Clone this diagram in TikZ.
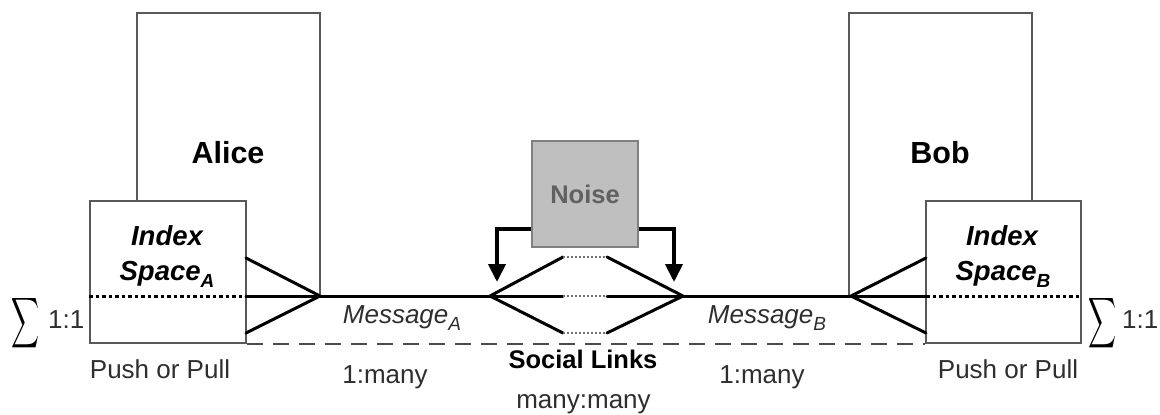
\documentclass[tikz,border=0pt]{standalone}
\usepackage{fontspec}
\setmainfont{Liberation Sans}
\usepackage{graphicx}
\usetikzlibrary{arrows.meta}
\newcommand{\fsz}[1]{\fontsize{#1}{#1}\selectfont}
\newcommand{\lowsub}[1]{\raisebox{-7pt}{\fsz{19}#1}}
\begin{document}
\begin{tikzpicture}[x=1pt,y=-1pt,
  txt/.style={inner sep=0pt, text=black!82, font=\fsz{26}},
  boldtxt/.style={inner sep=0pt, text=black, font=\bfseries\fsz{30.5}},
  idxtxt/.style={inner sep=0pt, text=black, font=\bfseries\itshape\fsz{27.5}},
  person/.style={draw=black!65, line width=1.8pt, fill=white, inner sep=0pt},
  idxbox/.style={draw=black!65, line width=1.8pt, fill=white, inner sep=0pt, minimum height=142pt},
  wire/.style={line width=3pt, line cap=round, line join=round},
  idots/.style={line width=3pt, dash pattern=on 3.5pt off 3pt},
  ndots/.style={line width=1.4pt, black!55, dash pattern=on 2pt off 2pt},
  social/.style={line width=1.8pt, black!70, dash pattern=on 16pt off 10pt},
  noisebox/.style={draw=black!50, line width=1.8pt, fill=black!25, minimum size=106pt, inner sep=0pt, text=black!62, font=\bfseries\fsz{25.5}},
  noisearrow/.style={line width=4pt, line join=miter, -{Triangle[length=18pt,width=17pt]}}
]
\useasboundingbox (0,0) rectangle (1160,415);

% people
\node[person, minimum width=183pt, minimum height=283pt] (alice) at (228.5,154.5) {};
\node[boldtxt, anchor=base] (alicet) at (228,163) {Alice};
\node[person, minimum width=183pt, minimum height=283pt] (bob) at (940.5,154.5) {};
\node[boldtxt, anchor=base] (bobt) at (940,163) {Bob};

% index spaces
\node[idxbox, minimum width=156pt] (idxA) at (168,272) {};
\node[idxtxt, anchor=base] (idxA1) at (167,245) {Index};
\node[idxtxt, anchor=base] (idxA2) at (167,280) {Space\lowsub{A}};
\node[idxbox, minimum width=155pt] (idxB) at (1003.5,272) {};
\node[idxtxt, anchor=base] (idxB1) at (1002,245) {Index};
\node[idxtxt, anchor=base] (idxB2) at (1003,280) {Space\lowsub{B}};

% noise
\node[noisebox] (noise) at (585,194) {Noise};

% coordinates
\coordinate (vA) at (320,296);
\coordinate (vB) at (851,296);
\coordinate (nL) at (490,296);
\coordinate (nR) at (683,296);
\coordinate (aU) at (246,258);
\coordinate (aM) at (246,296);
\coordinate (aL) at (246,333);
\coordinate (bU) at (926,258);
\coordinate (bM) at (926,296);
\coordinate (bL) at (926,333);
\coordinate (dUL) at (563,257);
\coordinate (dUR) at (607,257);
\coordinate (dML) at (563,296);
\coordinate (dMR) at (607,296);
\coordinate (dLL) at (563,333);
\coordinate (dLR) at (607,333);
\coordinate (tL) at (497,282);
\coordinate (tR) at (674,282);

% social links dashed
\draw[social] (idxA.south east) -- (idxB.south west);

% index dotted lines
\draw[idots] (idxA.west |- aM) -- (aM);
\draw[idots] (bM) -- (idxB.east |- bM);

% wires
\draw[wire] (aU) -- (vA) -- (aL);
\draw[wire] (aM) -- (vA);
\draw[wire] (vA) -- (nL);
\draw[wire] (nL) -- (dUL);
\draw[wire] (nL) -- (dML);
\draw[wire] (nL) -- (dLL);
\draw[wire] (dUR) -- (nR);
\draw[wire] (dMR) -- (nR);
\draw[wire] (dLR) -- (nR);
\draw[ndots] (dUL) -- (dUR);
\draw[ndots] (dML) -- (dMR);
\draw[ndots] (dLL) -- (dLR);
\draw[wire] (nR) -- (vB);
\draw[wire] (bU) -- (vB) -- (bL);
\draw[wire] (vB) -- (bM);

% noise arrows
\draw[noisearrow] ([yshift=-35pt]noise.west) -| (tL);
\draw[noisearrow] ([yshift=-35pt]noise.east) -| (tR);

% labels
\node[inner sep=0pt] (sigL) at (26,323.5) {\resizebox{28pt}{37pt}{$\displaystyle\sum$}};
\node[txt, anchor=base west] (oneL) at (48,328) {1:1};
\node[inner sep=0pt] (sigR) at (1102.5,323.5) {\resizebox{28pt}{37pt}{$\displaystyle\sum$}};
\node[txt, anchor=base west] (oneR) at (1122,328) {1:1};
\node[txt, anchor=base] (ppL) at (160,378) {Push or Pull};
\node[txt, anchor=base] (ppR) at (1008,378) {Push or Pull};
\node[txt, anchor=base, font=\itshape\fsz{26}] (msgA) at (402,323) {Message\lowsub{A}};
\node[txt, anchor=base, font=\itshape\fsz{26}] (msgB) at (767,323) {Message\lowsub{B}};
\node[txt, anchor=base] (omL) at (385,383) {1:many};
\node[txt, anchor=base] (omR) at (762,383) {1:many};
\node[inner sep=0pt, anchor=base, font=\bfseries\fsz{25.5}] (soc) at (583,368) {Social Links};
\node[txt, anchor=base] (mm) at (583.5,408) {many:many};
\end{tikzpicture}
\end{document}
